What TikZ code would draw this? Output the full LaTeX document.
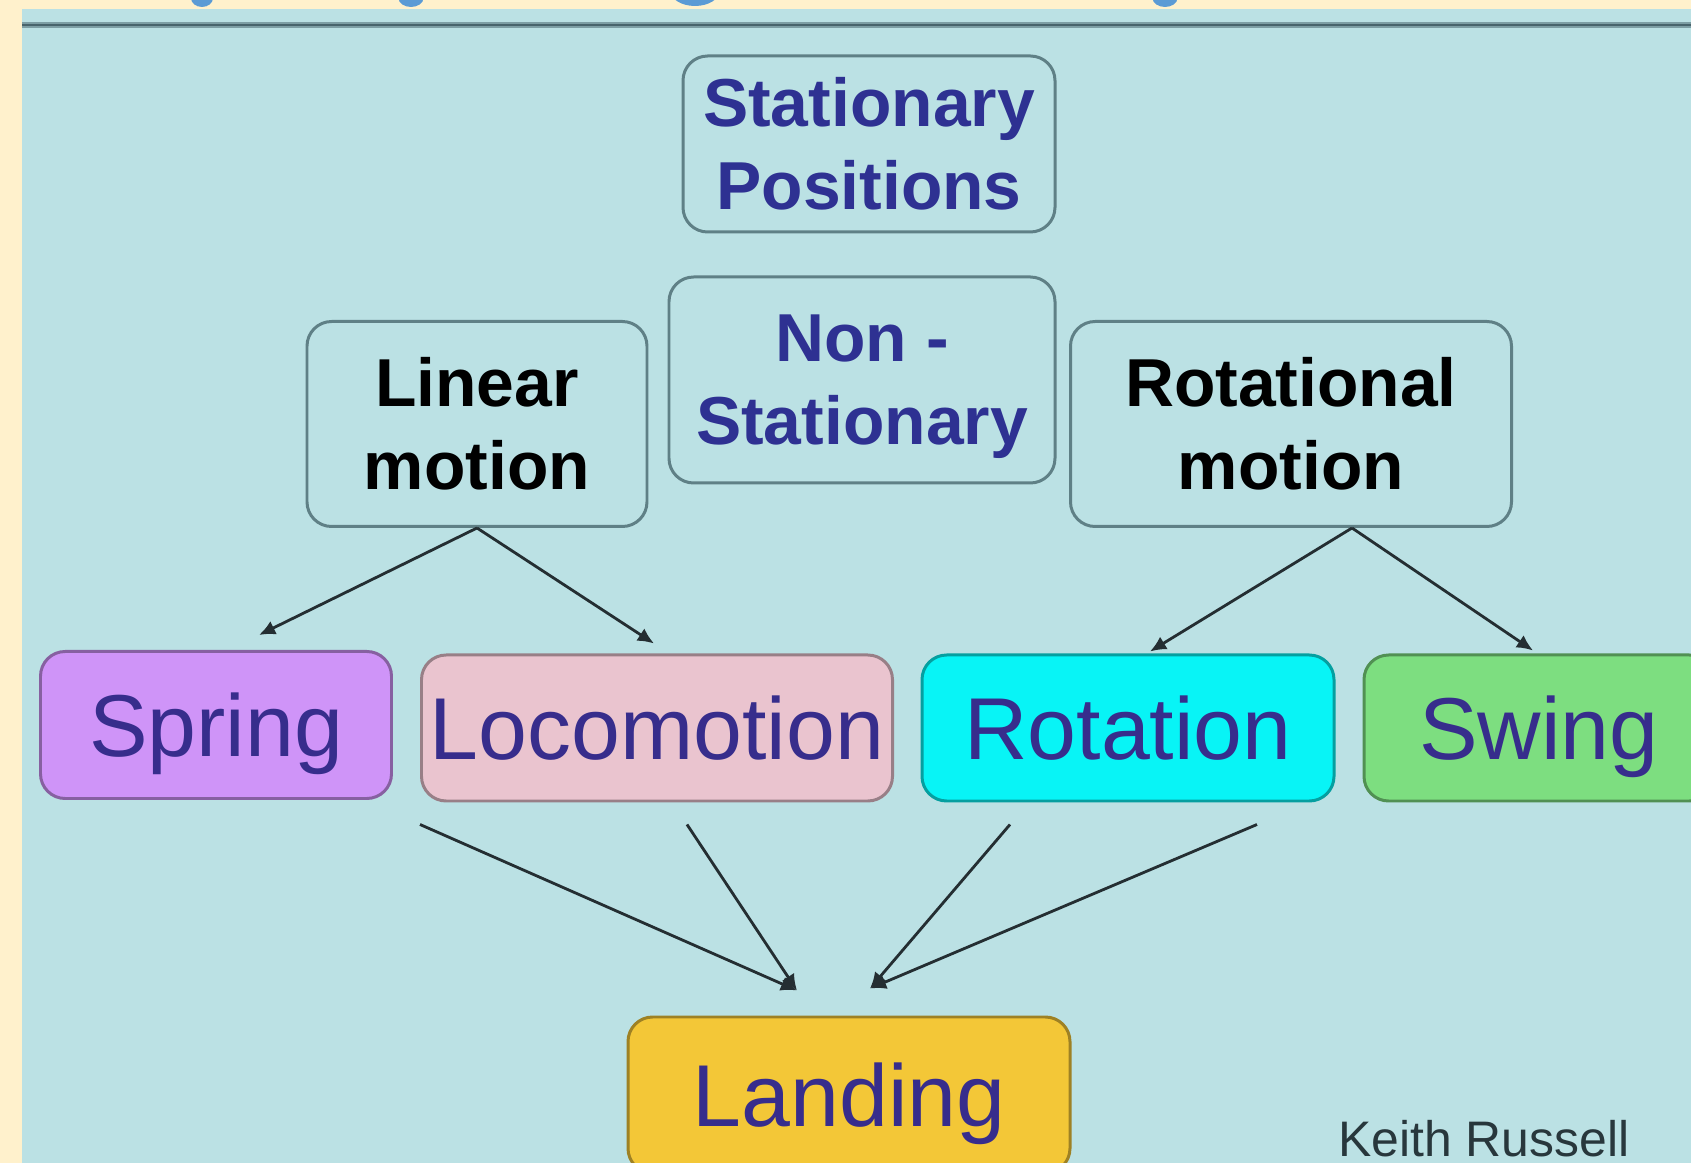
\documentclass[tikz,border=0pt]{standalone}
\usepackage{fontspec}
\setmainfont{Liberation Sans}
\usepackage{tikz}
\usetikzlibrary{arrows.meta,calc}
\definecolor{cream}{RGB}{255,241,204}
\definecolor{panelblue}{RGB}{187,225,228}
\definecolor{titleblue}{RGB}{91,155,213}
\definecolor{rulelight}{RGB}{125,158,164}
\definecolor{ruledark}{RGB}{72,100,108}
\definecolor{boxedge}{RGB}{95,128,134}
\definecolor{navytext}{RGB}{46,49,146}
\definecolor{labeltext}{RGB}{55,45,140}
\definecolor{arrowgray}{RGB}{36,46,50}
\definecolor{creditgray}{RGB}{40,55,60}
\definecolor{springviolet}{RGB}{207,148,248}
\definecolor{locopink}{RGB}{234,196,207}
\definecolor{rotcyan}{RGB}{8,244,246}
\definecolor{swinggreen}{RGB}{125,222,128}
\definecolor{landgold}{RGB}{243,199,55}

\begin{document}
\begin{tikzpicture}[
    motionbox/.style={draw=boxedge, line width=0.85pt, rounded corners=7pt, align=center,
        inner sep=0pt, text=navytext, font=\bfseries\fontsize{19.3}{23.6}\selectfont},
    kindbox/.style={draw=#1!65!black, fill=#1, line width=0.85pt, rounded corners=7pt,
        inner sep=0pt, minimum height=1.46cm, text depth=0pt, text=labeltext,
        font=\fontsize{25}{30}\selectfont},
    arr/.style={draw=arrowgray, line width=0.8pt, -{Latex[length=4.6pt,width=4.2pt]}}
]
    % Page and panel
    \useasboundingbox (0,0) rectangle (16.91,11.63);
    \clip (0,0) rectangle (16.91,11.63);
    \fill[cream] (0,0) rectangle (16.91,11.63);
    \fill[titleblue] (2.02,11.65) ellipse (0.11 and 0.09);
    \fill[titleblue] (4.11,11.65) ellipse (0.125 and 0.09);
    \fill[titleblue] (6.95,11.73) ellipse (0.25 and 0.16);
    \fill[titleblue] (11.65,11.65) ellipse (0.125 and 0.09);
    \fill[panelblue] (0.22,0) rectangle (16.91,11.54);
    \draw[rulelight,line width=1.8pt] (0.22,11.38) -- (16.91,11.38);
    \draw[ruledark,line width=0.8pt] (0.22,11.38) -- (16.91,11.38);

    % Motion groups
    \node[motionbox, minimum width=3.72cm, minimum height=1.76cm] (stat) at (8.69,10.19) {Stationary\\Positions};
    \node[motionbox, minimum width=3.86cm, minimum height=2.06cm] (nonstat) at (8.62,7.83) {Non -\\\raisebox{0pt}[\height][0pt]{Stationary}};
    \node[motionbox, text=black, minimum width=3.40cm, minimum height=2.05cm] (linear) at (4.77,7.39) {Linear\\motion};
    \node[motionbox, text=black, minimum width=4.41cm, minimum height=2.05cm] (rotational) at (12.91,7.39) {Rotational\\motion};

    % Skill kinds
    \node[kindbox=springviolet, minimum width=3.51cm, minimum height=1.47cm] (spring) at (2.16,4.38) {Spring};
    \node[kindbox=locopink, minimum width=4.71cm] (loco) at (6.57,4.35) {Locomotion};
    \node[kindbox=rotcyan, minimum width=4.12cm] (rotation) at (11.28,4.35) {Rotation};
    \node[kindbox=swinggreen, minimum width=3.50cm] (swing) at (15.39,4.35) {Swing};
    \node[kindbox=landgold, minimum width=4.42cm, minimum height=1.56cm] (landing) at (8.49,0.68) {Landing};

    \node[font=\fontsize{14.2}{17}\selectfont, text=creditgray, anchor=base] (credit) at (14.84,0.06) {Keith Russell};

    % Arrow ends
    \coordinate (rotApex) at ($(rotational.south)+(0.61,0)$);
    \coordinate (tSpring) at ($(spring.north)+(0.43,0.15)$);
    \coordinate (tLoco) at ($(loco.north)+(-0.03,0.10)$);
    \coordinate (tRotation) at ($(rotation.north)+(0.22,0.02)$);
    \coordinate (tSwing) at ($(swing.north)+(-0.06,0.03)$);
    \coordinate (landL) at ($(landing.north)+(-0.52,0.25)$);
    \coordinate (landR) at ($(landing.north)+(0.21,0.27)$);

    \draw[arr] (linear.south) -- (tSpring);
    \draw[arr] (linear.south) -- (tLoco);
    \draw[arr] (rotApex) -- (tRotation);
    \draw[arr] (rotApex) -- (tSwing);

    \draw[arr] ($(loco.south west)+(0,-0.22)$) -- (landL);
    \draw[arr] ($(loco.south)+(0.30,-0.22)$) -- (landL);
    \draw[arr] ($(rotation.south)+(-1.18,-0.22)$) -- (landR);
    \draw[arr] ($(rotation.south)+(1.29,-0.22)$) -- (landR);
\end{tikzpicture}
\end{document}
